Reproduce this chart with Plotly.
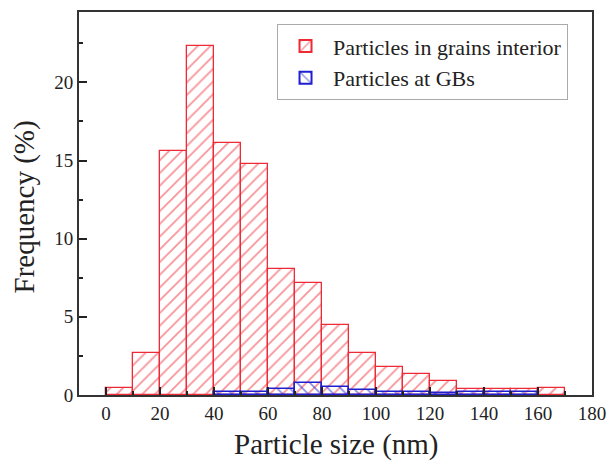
import plotly.graph_objects as go

bin_centers = [5, 15, 25, 35, 45, 55, 65, 75, 85, 95, 105, 115, 125, 135, 145, 155, 165]
interior = [0.43, 2.7, 15.6, 22.35, 16.1, 14.75, 8.05, 7.15, 4.5, 2.7, 1.8, 1.35, 0.87, 0.4, 0.4, 0.4, 0.45]
gb_centers = [45, 55, 65, 75, 85, 95, 105, 115, 125, 135, 145, 155]
gbs = [0.2, 0.2, 0.38, 0.75, 0.53, 0.3, 0.2, 0.2, 0.1, 0.17, 0.2, 0.2]

fig = go.Figure()
fig.add_trace(go.Bar(
    x=bin_centers, y=interior, width=10,
    name="Particles in grains interior",
    marker=dict(color="white",
                line=dict(color="#ee2a36", width=1.3),
                pattern=dict(shape="/", fgcolor="#ee2a36", bgcolor="white",
                             fillmode="overlay", size=9, solidity=0.2)),
))
fig.add_trace(go.Bar(
    x=gb_centers, y=gbs, width=10,
    name="Particles at GBs",
    marker=dict(color="rgba(0,0,0,0)",
                line=dict(color="#1f1fd0", width=1.6),
                pattern=dict(shape="\\", fgcolor="#1f1fd0", bgcolor="rgba(0,0,0,0)",
                             fillmode="overlay", size=9, solidity=0.2)),
))

font_family = "Liberation Serif"
fig.update_layout(
    width=611, height=462,
    barmode="overlay", bargap=0,
    plot_bgcolor="white", paper_bgcolor="white",
    margin=dict(l=79, r=19, t=12, b=67, autoexpand=False),
    font=dict(family=font_family, color="#222", size=19),
    legend=dict(x=0.386, y=0.968, xanchor="left", yanchor="top",
                bordercolor="#aaa", borderwidth=1, bgcolor="white",
                font=dict(size=22, family=font_family, color="#222"),
                tracegroupgap=0, itemsizing="constant", itemwidth=45),
    showlegend=True,
    annotations=[
        dict(text="Particle size (nm)", xref="paper", yref="paper",
             x=0.502, y=-0.13, xanchor="center", yanchor="middle",
             showarrow=False, font=dict(size=29, family=font_family, color="#222")),
        dict(text="Frequency (%)", xref="paper", yref="paper",
             x=-0.107, y=0.49, xanchor="center", yanchor="middle", textangle=-90,
             showarrow=False, font=dict(size=29, family=font_family, color="#222")),
    ],
)
fig.update_xaxes(
    range=[-10, 180], tickvals=[0, 20, 40, 60, 80, 100, 120, 140, 160, 180],
    ticks="inside", ticklen=8, tickwidth=1.5, tickcolor="#222",
    minor=dict(ticks="inside", ticklen=4, dtick=10, tickcolor="#222"),
    showline=True, linecolor="#333", linewidth=2, mirror=True,
    showgrid=False, zeroline=False, automargin=False,
    tickfont=dict(size=19),
)
fig.update_yaxes(
    range=[0, 24.5], tickvals=[0, 5, 10, 15, 20],
    ticks="inside", ticklen=8, tickwidth=1.5, tickcolor="#222",
    minor=dict(ticks="inside", ticklen=4, dtick=2.5, tickcolor="#222"),
    showline=True, linecolor="#333", linewidth=2, mirror=True,
    showgrid=False, zeroline=False, automargin=False,
    tickfont=dict(size=19),
)
fig.write_html("out.html", config={"displayModeBar": False},
               post_script="document.body.style.margin='0';document.body.style.padding='0';")
